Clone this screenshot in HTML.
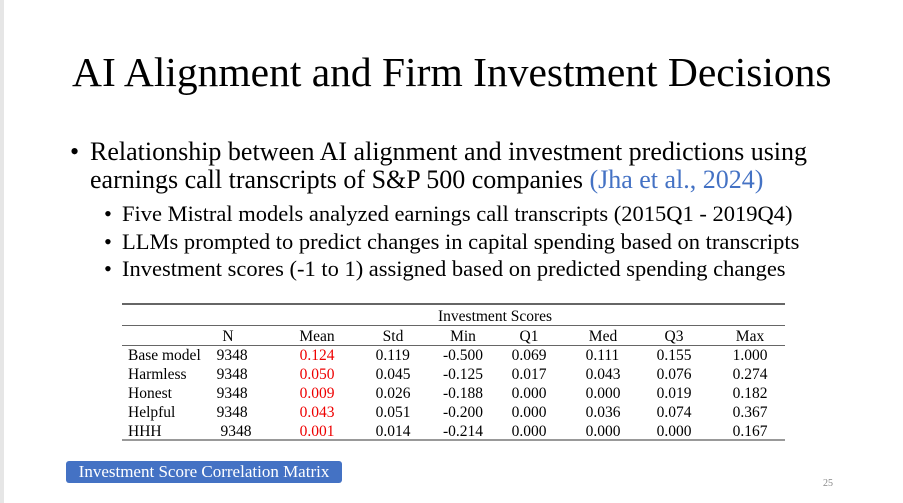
<!DOCTYPE html>
<html><head><style>
body{margin:0;width:903px;height:503px;background:#fff;position:relative;overflow:hidden;font-family:"Liberation Serif",serif;color:#000}
.a{position:absolute;white-space:nowrap}
.t{font-size:15.5px;line-height:19px}
.c{position:absolute;transform:translateX(-50%)}
.r{color:#e00}
.hl{position:absolute;left:122px;width:663px;background:#666}
</style></head><body>
<div class="a" style="left:0;top:0;width:4px;height:503px;background:#e6e6e6"></div>
<div class="a" style="left:72px;top:48px;font-size:41.5px">AI Alignment and Firm Investment Decisions</div>
<div class="a" style="left:70px;top:138px;font-size:26px;line-height:28px">•</div>
<div class="a" style="left:90px;top:138px;font-size:26px;line-height:28px">Relationship between AI alignment and investment predictions using<br>earnings call transcripts of S&amp;P 500 companies <span style="color:#4472c4">(Jha et al., 2024)</span></div>
<div class="a" style="left:104px;top:200px;font-size:22.5px;line-height:27.5px">•<br>•<br>•</div>
<div class="a" style="left:122px;top:200px;font-size:22.5px;line-height:27.5px">Five Mistral models analyzed earnings call transcripts (2015Q1 - 2019Q4)<br>LLMs prompted to predict changes in capital spending based on transcripts<br>Investment scores (-1 to 1) assigned based on predicted spending changes</div>
<div class="hl" style="top:303px;height:2px"></div>
<div class="hl" style="top:325px;height:1px;left:122px"></div>
<div class="hl" style="top:345px;height:1px"></div>
<div class="hl" style="top:439px;height:2px;background:#999"></div>
<div class="a t" style="left:438px;top:307px">Investment Scores</div>
<div class="t a" style="top:327px;left:0;width:903px;height:19px">
<span class="c" style="left:228px">N</span><span class="c" style="left:317px">Mean</span><span class="c" style="left:393px">Std</span><span class="c" style="left:463px">Min</span><span class="c" style="left:529px">Q1</span><span class="c" style="left:603px">Med</span><span class="c" style="left:674px">Q3</span><span class="c" style="left:750px">Max</span></div>
<div class="t a" style="top:346px;left:128px">Base model<br>Harmless<br>Honest<br>Helpful<br>HHH</div>
<div class="t a" style="top:346px;left:0;width:903px;height:100px">
<span class="c" style="left:234px">9348<br>9348<br>9348<br>9348<br>&nbsp;9348</span>
<span class="c r" style="left:317px">0.124<br>0.050<br>0.009<br>0.043<br>0.001</span>
<span class="c" style="left:393px">0.119<br>0.045<br>0.026<br>0.051<br>0.014</span>
<span class="c" style="left:463px">-0.500<br>-0.125<br>-0.188<br>-0.200<br>-0.214</span>
<span class="c" style="left:529px">0.069<br>0.017<br>0.000<br>0.000<br>0.000</span>
<span class="c" style="left:603px">0.111<br>0.043<br>0.000<br>0.036<br>0.000</span>
<span class="c" style="left:674px">0.155<br>0.076<br>0.019<br>0.074<br>0.000</span>
<span class="c" style="left:750px">1.000<br>0.274<br>0.182<br>0.367<br>0.167</span>
</div>
<div class="a" style="left:66px;top:461px;width:276px;height:22px;background:#4472c4;border-radius:3px;color:#fff;font-size:17px;line-height:22px;text-align:center">Investment Score Correlation Matrix</div>
<div class="a" style="left:823px;top:478px;font-size:10px;color:#888">25</div>
</body></html>
